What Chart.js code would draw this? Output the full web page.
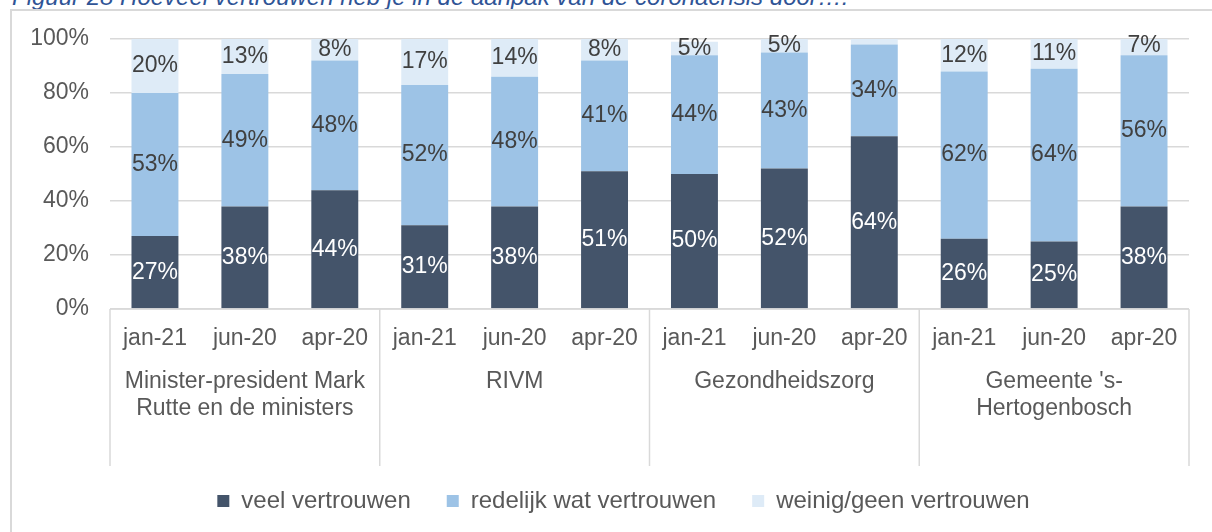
<!DOCTYPE html>
<html>
<head>
<meta charset="utf-8">
<title>Vertrouwen in de aanpak van de coronacrisis</title>
<script src="https://cdn.jsdelivr.net/npm/chart.js@4.4.1/dist/chart.umd.min.js"></script>
<style>
    body {
        margin: 0;
        background: #ffffff;
        font-family: "Liberation Sans", Arial, sans-serif;
    }
    #wrap {
        position: relative;
        width: 1212px;
        height: 532px;
        overflow: hidden;
    }
    #caption {
        position: absolute;
        left: 12px;
        top: -14px;
        font-size: 24px;
        line-height: 22px;
        font-style: italic;
        color: #2f5496;
        white-space: nowrap;
    }
    #frame {
        position: absolute;
        left: 10px;
        top: 9px;
        width: 1300px;
        height: 600px;
        border: 2px solid #d9d9d9;
    }
    #chartBox {
        position: absolute;
        left: 0;
        top: 0;
        width: 1212px;
        height: 532px;
    }
</style>
</head>
<body>
<div id="wrap">
    <div id="caption">Figuur 28 Hoeveel vertrouwen heb je in de aanpak van de coronacrisis door….</div>
    <div id="frame"></div>
    <div id="chartBox"><canvas id="trustChart"></canvas></div>
</div>

<script>
// waardes (in %)
var months = ["jan-21", "jun-20", "apr-20", "jan-21", "jun-20", "apr-20",
              "jan-21", "jun-20", "apr-20", "jan-21", "jun-20", "apr-20"];
var groups = [
    ["Minister-president Mark", "Rutte en de ministers"],
    ["RIVM"],
    ["Gezondheidszorg"],
    ["Gemeente 's-", "Hertogenbosch"]
];
var seriesNames = ["veel vertrouwen", "redelijk wat vertrouwen", "weinig/geen vertrouwen"];
var veel = [27, 38, 44, 31, 38, 51, 50, 52, 64, 26, 25, 38];
var redelijk = [53, 49, 48, 52, 48, 41, 44, 43, 34, 62, 64, 56];
var weinig = [20, 13, 8, 17, 14, 8, 5, 5, 2, 12, 11, 7];
var yTicks = [0, 20, 40, 60, 80, 100];

var FONT = "'Liberation Sans', Arial, sans-serif";
var GRID = "#d9d9d9";

// percentages in de staven
var barLabels = {
    id: "barLabels",
    afterDatasetsDraw: function (chart) {
        var ctx = chart.ctx;
        ctx.save();
        ctx.font = "23px " + FONT;
        ctx.textAlign = "center";
        ctx.textBaseline = "middle";
        chart.data.datasets.forEach(function (ds, di) {
            var meta = chart.getDatasetMeta(di);
            meta.data.forEach(function (bar, i) {
                var v = ds.data[i];
                if (v < 3) return;
                ctx.fillStyle = ds.labelColor;
                ctx.fillText(v + "%", bar.x, (bar.y + bar.base) / 2);
            });
        });
        ctx.restore();
    }
};

// tweede niveau van de x-as: kaders + groepsnamen
var groupAxis = {
    id: "groupAxis",
    afterDraw: function (chart) {
        var ctx = chart.ctx;
        var area = chart.chartArea;
        var xs = chart.scales.x;
        var step = (area.right - area.left) / months.length;
        var per = months.length / groups.length;
        var boxBottom = area.bottom + 157;
        ctx.save();
        ctx.strokeStyle = GRID;
        ctx.lineWidth = 1.5;
        ctx.beginPath();
        ctx.moveTo(area.left, area.bottom);
        ctx.lineTo(area.right, area.bottom);
        for (var g = 0; g <= groups.length; g++) {
            var x = g < groups.length ? xs.getPixelForValue(g * per) - step / 2 : area.right;
            ctx.moveTo(x, area.bottom);
            ctx.lineTo(x, boxBottom);
        }
        ctx.stroke();

        ctx.font = "23px " + FONT;
        ctx.fillStyle = "#595959";
        ctx.textAlign = "center";
        ctx.textBaseline = "middle";
        groups.forEach(function (lines, g) {
            var cx = (xs.getPixelForValue(g * per) + xs.getPixelForValue(g * per + per - 1)) / 2;
            lines.forEach(function (line, li) {
                ctx.fillText(line, cx, area.bottom + 73 + li * 27);
            });
        });
        ctx.restore();
    }
};

// legenda staat in het origineel iets rechts van het midden
var legendShift = {
    id: "legendShift",
    afterLayout: function (chart) {
        if (!chart.legend) return;
        chart.legend.left += 23;
        chart.legend.right += 23;
    }
};

var ctx_trust = document.getElementById("trustChart");
var trustChart = new Chart(ctx_trust, {
    type: "bar",
    data: {
        labels: months,
        datasets: [
            {
                label: seriesNames[0],
                data: veel,
                backgroundColor: "#44546a",
                labelColor: "#ffffff",
            },
            {
                label: seriesNames[1],
                data: redelijk,
                backgroundColor: "#9dc3e6",
                labelColor: "#404040",
            },
            {
                label: seriesNames[2],
                data: weinig,
                backgroundColor: "#deebf7",
                labelColor: "#404040",
            },
        ],
    },
    options: {
        responsive: true,
        maintainAspectRatio: false,
        animation: false,
        datasets: {
            bar: {
                categoryPercentage: 1,
                barPercentage: 0.522,
            },
        },
        layout: {
            padding: { left: 12, right: 23, top: 39, bottom: 9 },
        },
        plugins: {
            tooltip: { enabled: false },
            legend: {
                position: "bottom",
                labels: {
                    boxWidth: 12,
                    boxHeight: 12,
                    padding: 36,
                    color: "#595959",
                    font: { family: FONT, size: 24 },
                },
            },
        },
        scales: {
            x: {
                stacked: true,
                grid: { display: false },
                border: { display: false },
                ticks: {
                    color: "#595959",
                    font: { family: FONT, size: 23 },
                    padding: 8,
                    maxRotation: 0,
                    autoSkip: false,
                },
                afterFit: function (scale) {
                    scale.height = 144;
                },
            },
            y: {
                stacked: true,
                min: yTicks[0],
                max: yTicks[yTicks.length - 1],
                grid: { color: GRID, lineWidth: 1.5, drawTicks: false },
                border: { display: false },
                ticks: {
                    stepSize: yTicks[1] - yTicks[0],
                    color: "#595959",
                    font: { family: FONT, size: 23 },
                    padding: 21,
                    callback: function (value) {
                        return value + "%";
                    },
                },
                afterFit: function (scale) {
                    scale.width = 98;
                },
            },
        },
    },
    plugins: [barLabels, groupAxis, legendShift],
});
</script>
</body>
</html>
